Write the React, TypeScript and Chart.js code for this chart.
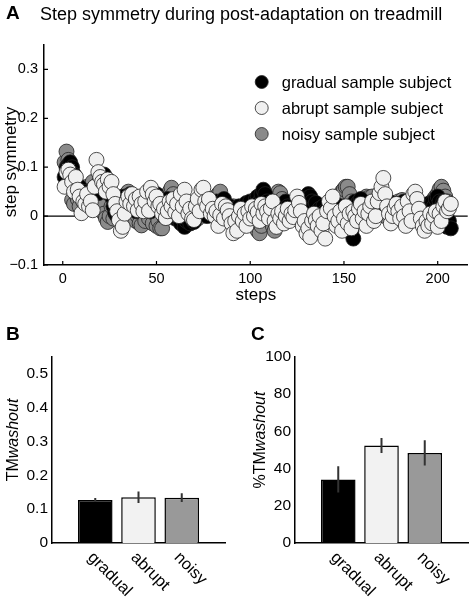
import React, { useEffect, useRef } from 'react';
import { Chart, registerables } from 'chart.js';

Chart.register(...registerables);

const FONT = '"Liberation Sans", Arial, Helvetica, sans-serif';
Chart.defaults.font.family = FONT;
Chart.defaults.color = '#000';

// ---------- Panel A data (step symmetry per step) ----------
const GRADUAL = [
  0.08, 0.1, 0.105, 0.11, 0.1, 0.085, 0.07, 0.05, 0.06, 0.04,
  0.045, 0.03, 0.05, 0.035, 0.04, 0.055, 0.05, 0.06, 0.047, 0.075,
  0.08, 0.085, 0.07, 0.06, 0.055, 0.04, 0.02, 0.006, 0.0, 0.01,
  0.03, 0.02, 0.04, 0.035, 0.03, 0.045, 0.02, 0.03, 0.01, 0.025,
  0.035, 0.02, 0.04, 0.015, 0.03, 0.025, 0.01, 0.035, 0.02, 0.045,
  0.03, 0.015, 0.025, 0.0, 0.02, 0.035, 0.01, 0.025, 0.0, -0.005,
  0.01, -0.008, -0.015, 0.0, -0.022, -0.01, 0.005, -0.015, 0.01, -0.012,
  0.02, 0.005, 0.025, 0.01, 0.03, 0.015, 0.0, 0.02, 0.01, 0.025,
  0.005, 0.03, 0.015, 0.02, 0.03, 0.035, 0.015, 0.0, 0.02, 0.01,
  -0.005, 0.015, 0.005, 0.02, -0.01, 0.01, 0.02, 0.027, 0.015, 0.03,
  0.01, 0.02, 0.035, 0.04, 0.03, 0.045, 0.054, 0.045, 0.03, 0.02,
  0.01, 0.025, 0.005, 0.015, 0.02, 0.01, 0.02, 0.025, 0.03, 0.02,
  0.0, 0.01, 0.015, 0.005, 0.02, 0.01, 0.025, 0.015, 0.03, 0.035,
  0.045, 0.04, 0.03, 0.02, 0.027, 0.01, 0.015, 0.0, 0.02, 0.01,
  -0.01, 0.005, 0.02, 0.01, 0.025, 0.015, 0.0, 0.02, 0.01, 0.0,
  -0.01, 0.005, -0.02, -0.03, -0.046, 0.03, 0.025, 0.03, 0.035, 0.02,
  0.01, 0.015, 0.0, 0.02, 0.01, 0.025, 0.015, 0.005, 0.02, 0.01,
  0.025, 0.015, 0.02, 0.03, 0.01, 0.02, 0.0, 0.015, 0.025, 0.01,
  0.02, 0.03, 0.015, 0.005, 0.02, 0.01, 0.025, 0.03, 0.02, 0.01,
  0.0, 0.015, 0.02, 0.01, 0.025, 0.02, 0.027, 0.02, 0.035, 0.04,
  0.03, 0.02, 0.03, 0.01, -0.022, -0.01, -0.025,
];

const ABRUPT = [
  0.06, 0.09, 0.095, 0.085, 0.07, 0.05, 0.08, 0.054, 0.04, 0.006,
  0.03, 0.025, 0.045, 0.02, 0.03, 0.012, 0.06, 0.115, 0.09, 0.08,
  0.07, 0.065, 0.05, 0.075, 0.06, 0.07, 0.045, 0.025, 0.01, -0.008,
  -0.03, -0.022, 0.005, 0.03, 0.04, 0.025, 0.045, 0.02, 0.035, 0.012,
  0.04, 0.025, 0.01, 0.03, 0.05, 0.011, 0.058, 0.045, 0.03, 0.04,
  0.02, 0.025, 0.005, 0.015, -0.004, 0.01, 0.03, 0.02, 0.035, 0.008,
  0.025, 0.0, 0.045, 0.02, 0.054, 0.03, 0.005, 0.015, -0.005, -0.008,
  0.02, 0.035, 0.01, 0.054, 0.058, 0.03, 0.02, 0.035, 0.005, 0.015,
  0.0, 0.01, -0.02, 0.002, 0.025, -0.005, 0.02, 0.012, 0.0, -0.015,
  -0.035, -0.01, -0.03, 0.0, 0.015, -0.01, 0.005, -0.02, 0.01, -0.005,
  0.02, 0.0, 0.015, 0.008, -0.01, 0.025, 0.005, 0.02, 0.01, -0.005,
  0.016, 0.03, -0.01, -0.022, 0.005, -0.005, 0.01, -0.015, 0.0, 0.015,
  -0.01, 0.005, -0.002, 0.012, 0.04, 0.027, 0.01, -0.02, -0.01, -0.035,
  -0.025, -0.043, -0.01, 0.005, -0.008, -0.02, 0.0, -0.03, -0.015, -0.046,
  0.01, 0.03, 0.016, 0.04, 0.0, -0.02, -0.01, 0.01, -0.03, -0.005,
  0.02, -0.015, 0.005, -0.025, 0.01, 0.0, -0.01, 0.015, 0.025, -0.005,
  0.01, -0.02, 0.005, 0.02, 0.03, -0.01, 0.0, 0.03, 0.047, 0.06,
  0.078, 0.045, 0.02, 0.005, -0.015, 0.0, 0.016, 0.025, 0.01, -0.005,
  0.02, 0.0, -0.02, 0.03, 0.01, -0.01, 0.045, 0.05, 0.035, 0.015,
  -0.005, -0.02, -0.03, -0.01, -0.02, 0.005, -0.015, 0.0, 0.01, -0.022,
  0.005, -0.01, 0.02, 0.03, 0.01, 0.016, 0.025,
];

const NOISY = [
  0.11, 0.132, 0.115, 0.09, 0.033, 0.025, 0.045, 0.035, 0.02, 0.05,
  0.03, 0.04, 0.06, 0.045, 0.055, 0.07, 0.06, 0.05, 0.04, 0.03,
  0.02, 0.005, -0.004, -0.012, 0.0, 0.02, -0.005, 0.01, 0.02, 0.005,
  0.025, 0.04, 0.035, 0.045, 0.05, 0.03, 0.015, 0.005, -0.01, 0.0,
  -0.015, -0.019, 0.01, -0.01, 0.02, -0.005, 0.03, -0.015, 0.005, -0.02,
  -0.01, -0.025, -0.025, 0.0, 0.02, 0.04, 0.05, 0.058, 0.045, 0.025,
  0.01, 0.02, 0.0, 0.015, 0.03, 0.01, 0.025, 0.0, 0.015, 0.005,
  0.02, -0.005, 0.01, 0.025, 0.005, 0.015, 0.03, 0.01, 0.02, 0.035,
  0.02, 0.04, 0.045, 0.05, 0.03, 0.01, -0.005, 0.015, 0.0, 0.01,
  0.02, 0.005, -0.01, 0.01, 0.0, 0.02, 0.01, -0.005, 0.015, 0.0,
  -0.01, -0.02, -0.015, -0.03, -0.035, -0.02, 0.0, 0.01, 0.02, 0.005,
  -0.01, -0.02, -0.03, 0.02, 0.05, 0.047, 0.035, 0.02, 0.01, 0.0,
  0.015, 0.025, 0.01, -0.005, 0.01, 0.02, 0.005, -0.01, 0.0, 0.015,
  0.01, 0.02, 0.005, -0.005, 0.01, 0.02, 0.0, -0.01, 0.01, 0.005,
  0.015, 0.02, 0.01, 0.025, 0.03, 0.02, 0.01, 0.04, 0.05, 0.055,
  0.06, 0.06, 0.045, 0.03, 0.02, 0.01, 0.0, 0.015, 0.02, 0.03,
  0.035, 0.04, 0.037, 0.025, 0.04, 0.02, 0.01, 0.0, 0.015, 0.02,
  0.01, 0.0, 0.01, 0.025, 0.02, 0.005, 0.015, 0.02, 0.03, 0.025,
  0.033, 0.02, 0.01, -0.005, 0.005, 0.015, 0.01, 0.02, 0.005, -0.01,
  0.0, 0.01, 0.02, 0.005, 0.015, 0.025, 0.03, 0.035, 0.04, 0.045,
  0.055, 0.06, 0.052, 0.04, 0.03,
];

const A_X_TICKS = [0, 50, 100, 150, 200];
const A_Y_TICKS = [-0.1, 0, 0.1, 0.2, 0.3];
const SERIES_LABELS = ['gradual sample subject', 'abrupt sample subject', 'noisy sample subject'];
const SERIES_COLORS = ['#000000', '#f0f0f0', '#8a8a8a'];

// ---------- Panels B and C data ----------
const CATEGORIES = ['gradual', 'abrupt', 'noisy'];
const TM_WASHOUT = [0.127, 0.135, 0.134];
const TM_WASHOUT_ERR = [0.006, 0.017, 0.013];
const PCT_TM_WASHOUT = [34.2, 52.4, 48.4];
const PCT_TM_WASHOUT_ERR = [7.0, 4.0, 6.8];
const B_Y_TICKS = [0, 0.1, 0.2, 0.3, 0.4, 0.5];
const C_Y_TICKS = [0, 20, 40, 60, 80, 100];
const BAR_COLORS = ['#000000', '#f2f2f2', '#999999'];

const fmtA = (v: number) =>
  v === 0 ? '0' : v < 0 ? '\u2212' + Math.abs(v).toFixed(1) : v.toFixed(1);

const toPts = (arr: number[]) => arr.map((y, i) => ({ x: i + 1, y }));

function drawRotated(ctx: CanvasRenderingContext2D, parts: { t: string; it?: boolean }[], cx: number, cy: number, size: number) {
  ctx.save();
  ctx.translate(cx, cy);
  ctx.rotate(-Math.PI / 2);
  ctx.textBaseline = 'middle';
  ctx.textAlign = 'left';
  ctx.fillStyle = '#000';
  const widths = parts.map((p) => {
    ctx.font = `${p.it ? 'italic ' : ''}${size}px ${FONT}`;
    return ctx.measureText(p.t).width;
  });
  const total = widths.reduce((a, b) => a + b, 0);
  let x = -total / 2;
  parts.forEach((p, i) => {
    ctx.font = `${p.it ? 'italic ' : ''}${size}px ${FONT}`;
    ctx.fillText(p.t, x, 0);
    x += widths[i];
  });
  ctx.restore();
}

const panelAPlugin = {
  id: 'panelA',
  beforeDatasetsDraw(chart: any) {
    const { ctx, chartArea: ca, scales } = chart;
    const y0 = scales.y.getPixelForValue(0);
    ctx.save();
    ctx.strokeStyle = '#000';
    ctx.lineWidth = 1.2;
    ctx.beginPath();
    ctx.moveTo(ca.left, y0);
    ctx.lineTo(ca.right, y0);
    ctx.stroke();
    ctx.restore();
  },
  afterDraw(chart: any) {
    const { ctx, chartArea: ca, scales } = chart;
    const { x, y } = scales;
    ctx.save();
    ctx.strokeStyle = '#000';
    ctx.lineWidth = 1.2;
    ctx.beginPath();
    A_Y_TICKS.forEach((v) => {
      const p = y.getPixelForValue(v);
      ctx.moveTo(ca.left, p);
      ctx.lineTo(ca.left + 4, p);
    });
    A_X_TICKS.forEach((v) => {
      const p = x.getPixelForValue(v);
      ctx.moveTo(p, ca.bottom);
      ctx.lineTo(p, ca.bottom - 4);
    });
    ctx.stroke();

    // legend
    SERIES_LABELS.forEach((lab, i) => {
      const cy = ca.top + 37 + i * 26;
      const cx = ca.right - 206;
      ctx.beginPath();
      ctx.arc(cx, cy, 6.5, 0, Math.PI * 2);
      ctx.fillStyle = SERIES_COLORS[i];
      ctx.fill();
      ctx.lineWidth = 0.8;
      ctx.strokeStyle = '#222';
      ctx.stroke();
      ctx.fillStyle = '#000';
      ctx.font = `16.5px ${FONT}`;
      ctx.textBaseline = 'middle';
      ctx.textAlign = 'left';
      ctx.fillText(lab, cx + 20, cy + 1);
    });

    // titles
    ctx.fillStyle = '#000';
    ctx.textBaseline = 'alphabetic';
    ctx.textAlign = 'left';
    ctx.font = `bold 19px ${FONT}`;
    ctx.fillText('A', 6, 19);
    ctx.font = `18px ${FONT}`;
    ctx.fillText('Step symmetry during post-adaptation on treadmill', 40, 20);

    ctx.font = `17px ${FONT}`;
    ctx.textAlign = 'center';
    ctx.textBaseline = 'middle';
    ctx.fillText('steps', (ca.left + ca.right) / 2, 295);
    ctx.restore();

    drawRotated(ctx, [{ t: 'step symmetry' }], 11, 162, 17);
  },
};

function makeBarPlugin(letter: string, letterX: number, errs: number[], label: { t: string; it?: boolean }[], labelX: number) {
  return {
    id: 'bar' + letter,
    afterDatasetsDraw(chart: any) {
      const { ctx, scales } = chart;
      const ds = chart.data.datasets[0].data as { x: number; y: number }[];
      ctx.save();
      ctx.strokeStyle = '#333';
      ctx.lineWidth = 2;
      ctx.beginPath();
      ds.forEach((d, i) => {
        const px = scales.x.getPixelForValue(d.x);
        ctx.moveTo(px, scales.y.getPixelForValue(d.y - errs[i]));
        ctx.lineTo(px, scales.y.getPixelForValue(d.y + errs[i]));
      });
      ctx.stroke();
      ctx.restore();
    },
    afterDraw(chart: any) {
      const { ctx, chartArea: ca, scales } = chart;
      ctx.save();
      ctx.fillStyle = '#000';
      ctx.font = `bold 19px ${FONT}`;
      ctx.textAlign = 'left';
      ctx.textBaseline = 'alphabetic';
      ctx.fillText(letter, letterX, 40);

      ctx.font = `16.5px ${FONT}`;
      CATEGORIES.forEach((c, i) => {
        const px = scales.x.getPixelForValue(i + 1);
        ctx.save();
        ctx.translate(px - 5, ca.bottom + 12);
        ctx.rotate(Math.PI / 4);
        ctx.textAlign = 'left';
        ctx.textBaseline = 'middle';
        ctx.fillText(c, 0, 0);
        ctx.restore();
      });
      ctx.restore();
      drawRotated(ctx, label, labelX, 140, 16);
    },
  };
}

function barConfig(values: number[], errs: number[], yMax: number, yTicks: number[], fmt: (v: number) => string, leftW: number, rightPad: number, plugin: any) {
  const xTicks = [0, ...CATEGORIES.map((_, i) => i + 1), CATEGORIES.length + 1];
  return {
    type: 'bar' as const,
    data: {
      datasets: [
        {
          data: values.map((v, i) => ({ x: i + 1, y: v })),
          backgroundColor: BAR_COLORS,
          borderColor: '#000',
          borderWidth: 1.5,
          borderSkipped: 'bottom',
          barPercentage: 0.8,
          categoryPercentage: 1,
        },
      ],
    },
    options: {
      animation: false,
      responsive: false,
      maintainAspectRatio: false,
      events: [],
      layout: { padding: { top: 57, right: rightPad, left: 0, bottom: 0 } },
      plugins: { legend: { display: false }, tooltip: { enabled: false } },
      scales: {
        x: {
          type: 'linear',
          offset: false,
          min: 0,
          max: CATEGORIES.length + 1,
          afterBuildTicks: (s: any) => {
            s.ticks = xTicks.map((value) => ({ value }));
          },
          ticks: { display: false },
          grid: { display: false, drawTicks: false, offset: false },
          border: { display: true, color: '#000', width: 1.5 },
          afterFit: (s: any) => {
            s.height = 55;
          },
        },
        y: {
          min: 0,
          max: yMax,
          afterBuildTicks: (s: any) => {
            s.ticks = yTicks.map((value) => ({ value }));
          },
          ticks: { callback: (v: any) => fmt(Number(v)), padding: 4, font: { size: 15.5 }, color: '#000' },
          grid: { display: false, drawTicks: false },
          border: { display: true, color: '#000', width: 1.5 },
          afterFit: (s: any) => {
            s.width = leftW;
          },
        },
      },
    },
    plugins: [plugin],
  };
}

export default function App() {
  const refA = useRef<HTMLCanvasElement>(null);
  const refB = useRef<HTMLCanvasElement>(null);
  const refC = useRef<HTMLCanvasElement>(null);

  useEffect(() => {
    const mkPts = (arr: number[], i: number, order: number) => ({
      label: SERIES_LABELS[i],
      data: toPts(arr),
      order,
      pointRadius: 7.5,
      pointHoverRadius: 7.5,
      pointBackgroundColor: SERIES_COLORS[i],
      pointBorderColor: '#222',
      pointBorderWidth: 0.8,
      showLine: false,
    });

    const chartA = new Chart(refA.current as HTMLCanvasElement, {
      type: 'scatter',
      data: {
        datasets: [mkPts(ABRUPT, 1, 0), mkPts(GRADUAL, 0, 1), mkPts(NOISY, 2, 2)],
      },
      options: {
        animation: false,
        responsive: false,
        maintainAspectRatio: false,
        events: [],
        layout: { padding: { top: 45, right: 3, left: 0, bottom: 0 } },
        plugins: { legend: { display: false }, tooltip: { enabled: false } },
        scales: {
          x: {
            type: 'linear',
            min: -10,
            max: 216,
            afterBuildTicks: (s: any) => {
              s.ticks = A_X_TICKS.map((value) => ({ value }));
            },
            ticks: { font: { size: 14.5 }, padding: 5, color: '#000', maxRotation: 0 },
            grid: { display: false, drawTicks: false },
            border: { display: true, color: '#000', width: 1.5 },
            afterFit: (s: any) => {
              s.height = 45;
            },
          },
          y: {
            min: -0.1,
            max: 0.35,
            afterBuildTicks: (s: any) => {
              s.ticks = A_Y_TICKS.map((value) => ({ value }));
            },
            ticks: { font: { size: 14.5 }, padding: 6, color: '#000', callback: (v: any) => fmtA(Number(v)) },
            grid: { display: false, drawTicks: false },
            border: { display: true, color: '#000', width: 1.5 },
            afterFit: (s: any) => {
              s.width = 44;
            },
          },
        },
      },
      plugins: [panelAPlugin],
    } as any);

    const chartB = new Chart(
      refB.current as HTMLCanvasElement,
      barConfig(
        TM_WASHOUT,
        TM_WASHOUT_ERR,
        0.55,
        B_Y_TICKS,
        (v) => (v === 0 ? '0' : v.toFixed(1)),
        52,
        11,
        makeBarPlugin('B', 6, TM_WASHOUT_ERR, [{ t: 'TM' }, { t: 'washout', it: true }], 14)
      ) as any
    );

    const chartC = new Chart(
      refC.current as HTMLCanvasElement,
      barConfig(
        PCT_TM_WASHOUT,
        PCT_TM_WASHOUT_ERR,
        100,
        C_Y_TICKS,
        (v) => String(Math.round(v)),
        59,
        8,
        makeBarPlugin('C', 15, PCT_TM_WASHOUT_ERR, [{ t: '%TM' }, { t: 'washout', it: true }], 25)
      ) as any
    );

    return () => {
      chartA.destroy();
      chartB.destroy();
      chartC.destroy();
    };
  }, []);

  return (
    <div style={{ position: 'fixed', left: 0, top: 0, width: 476, height: 598, background: '#fff' }}>
      <canvas ref={refA} width={476} height={310} style={{ position: 'absolute', left: 0, top: 0, width: 476, height: 310 }} />
      <canvas ref={refB} width={236} height={298} style={{ position: 'absolute', left: 0, top: 300, width: 236, height: 298 }} />
      <canvas ref={refC} width={240} height={298} style={{ position: 'absolute', left: 236, top: 300, width: 240, height: 298 }} />
    </div>
  );
}
